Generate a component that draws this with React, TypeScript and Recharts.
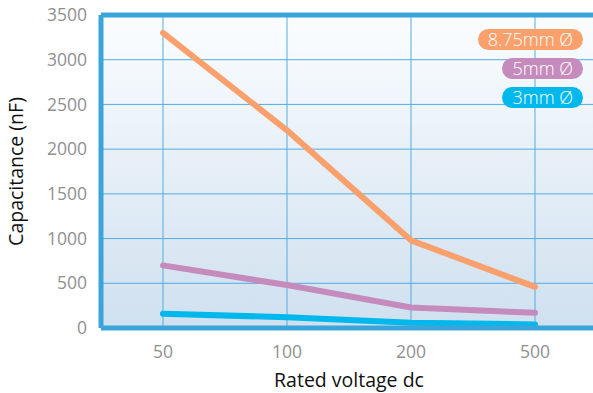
import React from 'react';
import {
  LineChart,
  Line,
  XAxis,
  YAxis,
  CartesianGrid,
  ReferenceLine,
} from 'recharts';

// Rated voltage categories and capacitance per capacitor diameter
const voltages = ['50', '100', '200', '500'];
const cap875 = [3300, 2210, 980, 460];
const cap5 = [700, 480, 230, 170];
const cap3 = [160, 120, 60, 40];
const yTicks = [0, 500, 1000, 1500, 2000, 2500, 3000, 3500];

const series = [
  { key: 'big', name: '8.75mm Ø', color: '#f9a06c' },
  { key: 'mid', name: '5mm Ø', color: '#c68bbd' },
  { key: 'small', name: '3mm Ø', color: '#00b8ec' },
];

const data = voltages.map((v, i) => ({
  voltage: v,
  big: cap875[i],
  mid: cap5[i],
  small: cap3[i],
}));

const BLUE = '#3ba5da';
const FONT = '"Open Sans", "Noto Sans", sans-serif';

// pill legend, top right of the plot
function Pills() {
  return (
    <div
      style={{
        position: 'absolute',
        top: 29,
        right: 10,
        display: 'flex',
        flexDirection: 'column',
        alignItems: 'flex-end',
        gap: 8,
      }}
    >
      {series.map((s) => (
        <div
          key={s.key}
          style={{
            background: s.color,
            color: '#fff',
            borderRadius: 11,
            height: 21,
            lineHeight: '21px',
            padding: '0 10px',
            fontFamily: FONT,
            fontSize: 18,
            fontWeight: 300,
          }}
        >
          {s.name}
        </div>
      ))}
    </div>
  );
}

export default function App() {
  return (
    <div style={{ position: 'absolute', left: 0, top: 0, width: 593, height: 393, background: '#fff', overflow: 'hidden' }}>
      <LineChart
        width={593}
        height={393}
        data={data}
        margin={{ top: 15, right: -4, left: 0, bottom: 0 }}
      >
        <defs>
          <linearGradient id="plotBg" x1="0" y1="0" x2="0" y2="1">
            <stop offset="0%" stopColor="#fbfdff" />
            <stop offset="100%" stopColor="#cfe0ef" />
          </linearGradient>
        </defs>
        <CartesianGrid fill="url(#plotBg)" stroke="#52ade0" strokeWidth={1} />
        <XAxis
          dataKey="voltage"
          height={65}
          padding={{ left: 62, right: 62 }}
          tickLine={false}
          axisLine={{ stroke: BLUE, strokeWidth: 5 }}
          tick={{ fill: '#909090', fontSize: 17.5, fontFamily: FONT }}
          tickMargin={12}
          label={{ value: 'Rated voltage dc', position: 'insideBottom', offset: 6, fill: '#111', fontSize: 19.5, fontFamily: FONT }}
        />
        <YAxis
          width={101}
          domain={[0, 3500]}
          ticks={yTicks}
          interval={0}
          tickLine={false}
          axisLine={{ stroke: BLUE, strokeWidth: 5 }}
          tick={{ fill: '#909090', fontSize: 17.5, fontFamily: FONT }}
          tickMargin={8}
          label={{ value: 'Capacitance (nF)', angle: -90, position: 'insideLeft', offset: 16, fill: '#111', fontSize: 19.5, fontFamily: FONT, style: { textAnchor: 'middle' } }}
        />
        <ReferenceLine y={3500} stroke={BLUE} strokeWidth={5} />
        {series.map((s) => (
          <Line
            key={s.key}
            dataKey={s.key}
            name={s.name}
            stroke={s.color}
            strokeWidth={6}
            strokeLinecap="round"
            strokeLinejoin="round"
            dot={false}
            activeDot={false}
            isAnimationActive={false}
          />
        ))}
      </LineChart>
      <Pills />
    </div>
  );
}
